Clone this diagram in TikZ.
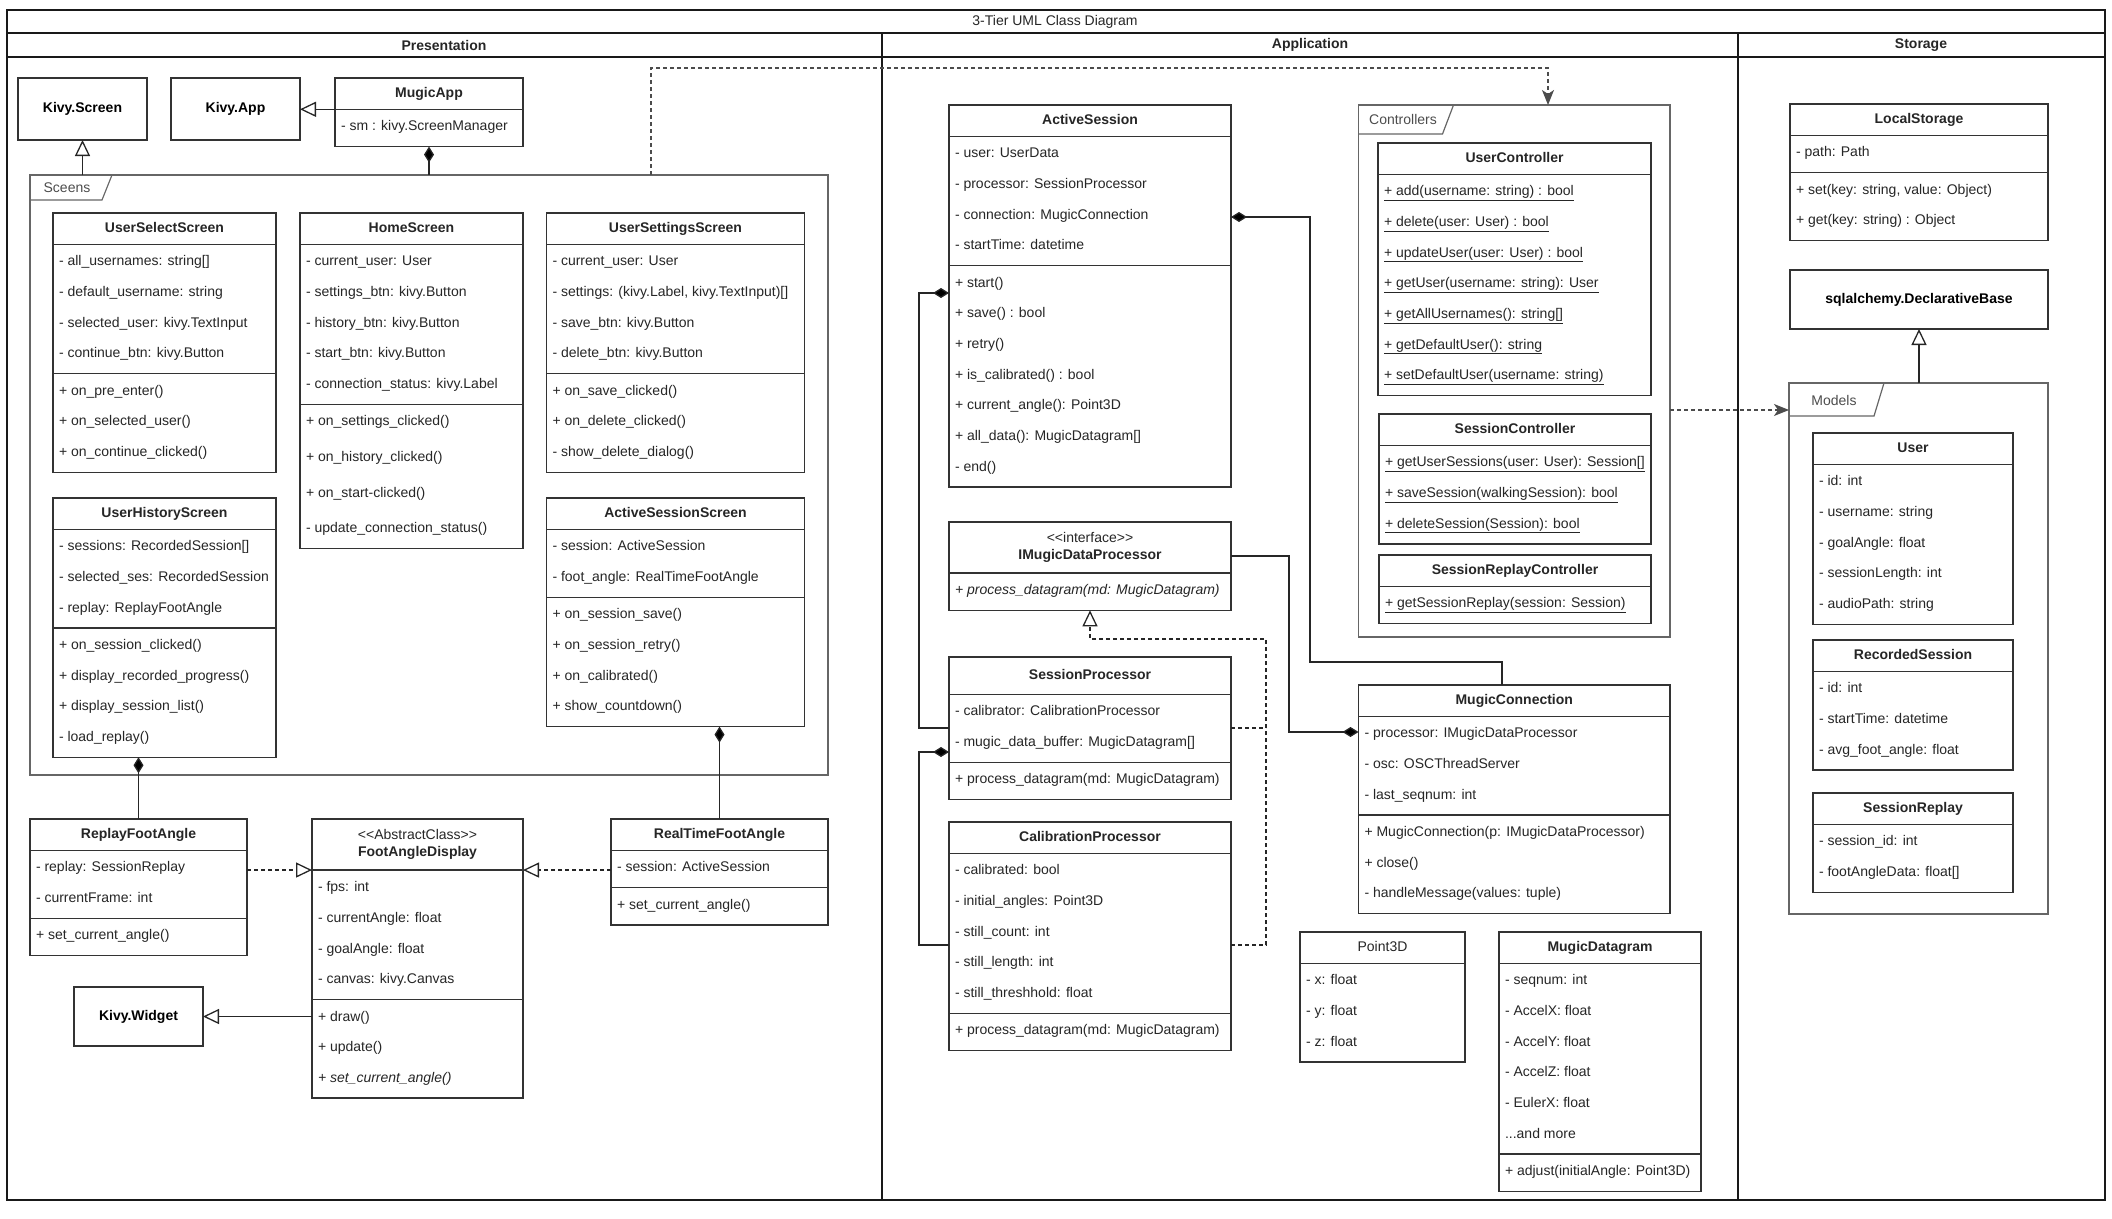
\documentclass[tikz,border=0pt]{standalone}
\usepackage{fontspec}
\newfontfamily\umlfont{Liberation Sans}
\usepackage{tikz}
\usetikzlibrary{arrows.meta}
\usetikzlibrary{shapes.multipart}

\newcommand{\hs}{\rule[-3pt]{0pt}{14pt}}
\newcommand{\rs}{\rule[-7pt]{0pt}{20pt}}
\newcommand{\stereo}[2]{{\renewcommand{\arraystretch}{0.55}\begin{tabular}{@{}c@{}}#1\\\textbf{#2}\end{tabular}}}

\begin{document}
\begin{tikzpicture}[x=1pt, y=-1pt,
  every node/.style={font=\umlfont\fontsize{14}{30.67}\selectfont, text=black!85, outer sep=0pt},
  umlclass/.style={draw=black!80, line width=1.3pt, fill=white, anchor=north west,
    rectangle split, rectangle split parts=#1, rectangle split part align={center,left,left},
    align=left, inner xsep=6pt, inner ysep=8pt},
  umlclass/.default=3,
  plainclass/.style={draw=black!80, line width=1.3pt, fill=white, anchor=north west,
    font=\umlfont\bfseries\fontsize{14}{17}\selectfont, text=black},
  pkg/.style={draw=black!60, line width=1.2pt},
  tablabel/.style={text=black!70},
  lane/.style={font=\umlfont\bfseries\fontsize{14}{17}\selectfont},
  frame/.style={draw=black!90, line width=2.5pt},
  compose/.style={draw=black!85, line width=1.3pt, {Diamond[length=16pt,width=10pt]}-},
  inherit/.style={draw=black!85, line width=1.3pt, -{Triangle[open,length=16pt,width=15pt]}},
  realline/.style={draw=black!85, line width=1.3pt, dash pattern=on 4pt off 3pt},
  realize/.style={realline, -{Triangle[open,length=16pt,width=15pt]}},
  depend/.style={draw=black!70, line width=1.2pt, dash pattern=on 4pt off 3pt, -{Stealth[length=15pt,width=12pt,inset=4pt]}}
]
\useasboundingbox (0,0) rectangle (2112,1218);
%
\draw[frame] (7,10) rectangle (2105,1200);
\draw[frame] (7,33) -- (2105,33);
\draw[frame] (7,57) -- (2105,57);
\draw[frame] (882,33) -- (882,1200);
\draw[frame] (1738,33) -- (1738,1200);
\node (title) at (1055,22) {3-Tier UML Class Diagram};
\node[lane] (lanePres) at (444,45) {Presentation};
\node[lane] (laneApp) at (1310,45) {Application};
\node[lane] (laneStore) at (1921,45) {Storage};
%
% packages
\node[pkg, anchor=north west, minimum width=798pt, minimum height=600pt] (Sceens) at (30,175) {};
\draw[pkg] (Sceens.north west) -- ++(82,0) -- ++(-10,25) -- ++(-72,0);
\node[tablabel] (SceensTab) at (67,188) {Sceens};
\node[pkg, anchor=north west, minimum width=311.5pt, minimum height=532pt] (Controllers) at (1358.5,105) {};
\draw[pkg] (Controllers.north west) -- ++(95,0) -- ++(-11,29) -- ++(-84,0);
\node[tablabel] (ControllersTab) at (1403,119) {Controllers};
\node[pkg, anchor=north west, minimum width=259pt, minimum height=531pt] (Models) at (1789,383) {};
\draw[pkg] (Models.north west) -- ++(95,0) -- ++(-10,33) -- ++(-85,0);
\node[tablabel] (ModelsTab) at (1834,400) {Models};
%
% presentation
\node[plainclass, minimum width=129pt, minimum height=62pt] (KivyScreen) at (18,78) {Kivy.Screen};
\node[plainclass, minimum width=129pt, minimum height=62pt] (KivyApp) at (171,78) {Kivy.App};
\node[umlclass=2, minimum width=188pt] (MugicApp) at (335,78) {\hs\textbf{MugicApp}
  \nodepart{two}\rs - sm : kivy.ScreenManager};
\node[umlclass, minimum width=223pt] (UserSelectScreen) at (53,213) {\hs\textbf{UserSelectScreen}
  \nodepart{two}\rs - all\_usernames: string[]\\\rs - default\_username: string\\\rs - selected\_user: kivy.TextInput\\\rs - continue\_btn: kivy.Button
  \nodepart{three}\rs + on\_pre\_enter()\\\rs + on\_selected\_user()\\\rs + on\_continue\_clicked()};
\node[umlclass, minimum width=223pt] (HomeScreen) at (300,213) {\hs\textbf{HomeScreen}
  \nodepart{two}\rs - current\_user: User\\\rs - settings\_btn: kivy.Button\\\rs - history\_btn: kivy.Button\\\rs - start\_btn: kivy.Button\\\rs - connection\_status: kivy.Label
  \nodepart{three}\rs + on\_settings\_clicked()\\[5pt]\rs + on\_history\_clicked()\\[5pt]\rs + on\_start-clicked()\\[5pt]\rs - update\_connection\_status()};
\node[umlclass, minimum width=258pt] (UserSettingsScreen) at (546.5,213) {\hs\textbf{UserSettingsScreen}
  \nodepart{two}\rs - current\_user: User\\\rs - settings: (kivy.Label, kivy.TextInput)[]\\\rs - save\_btn: kivy.Button\\\rs - delete\_btn: kivy.Button
  \nodepart{three}\rs + on\_save\_clicked()\\\rs + on\_delete\_clicked()\\\rs - show\_delete\_dialog()};
\node[umlclass, minimum width=223pt] (UserHistoryScreen) at (53,498) {\hs\textbf{UserHistoryScreen}
  \nodepart{two}\rs - sessions: RecordedSession[]\\\rs - selected\_ses: RecordedSession\\\rs - replay: ReplayFootAngle
  \nodepart{three}\rs + on\_session\_clicked()\\\rs + display\_recorded\_progress()\\\rs + display\_session\_list()\\\rs - load\_replay()};
\node[umlclass, minimum width=258pt] (ActiveSessionScreen) at (546.5,498) {\hs\textbf{ActiveSessionScreen}
  \nodepart{two}\rs - session: ActiveSession\\\rs - foot\_angle: RealTimeFootAngle
  \nodepart{three}\rs + on\_session\_save()\\\rs + on\_session\_retry()\\\rs + on\_calibrated()\\\rs + show\_countdown()};
\node[umlclass, minimum width=217pt] (ReplayFootAngle) at (30,819) {\hs\textbf{ReplayFootAngle}
  \nodepart{two}\rs - replay: SessionReplay\\\rs - currentFrame: int
  \nodepart{three}\rs + set\_current\_angle()};
\node[umlclass, minimum width=211pt] (FootAngleDisplay) at (312,819) {\stereo{<<AbstractClass>>}{FootAngleDisplay}
  \nodepart{two}\rs - fps: int\\\rs - currentAngle: float\\\rs - goalAngle: float\\\rs - canvas: kivy.Canvas
  \nodepart{three}\rs + draw()\\\rs + update()\\\rs\textit{+ set\_current\_angle()}};
\node[umlclass, minimum width=217pt] (RealTimeFootAngle) at (611,819) {\hs\textbf{RealTimeFootAngle}
  \nodepart{two}\rs - session: ActiveSession
  \nodepart{three}\rs + set\_current\_angle()};
\node[plainclass, minimum width=129pt, minimum height=59pt] (KivyWidget) at (74,987) {Kivy.Widget};
%
% application
\node[umlclass, minimum width=282pt] (ActiveSession) at (949,105) {\hs\textbf{ActiveSession}
  \nodepart{two}\rs - user: UserData\\\rs - processor: SessionProcessor\\\rs - connection: MugicConnection\\\rs - startTime: datetime
  \nodepart{three}\rs + start()\\\rs + save() : bool\\\rs + retry()\\\rs + is\_calibrated() : bool\\\rs + current\_angle(): Point3D\\\rs + all\_data(): MugicDatagram[]\\\rs - end()};
\node[umlclass=2, minimum width=282pt] (IMugicDataProcessor) at (949,522) {\stereo{<<interface>>}{IMugicDataProcessor}
  \nodepart{two}\rs\textit{+ process\_datagram(md: MugicDatagram)}};
\node[umlclass, minimum width=282pt] (SessionProcessor) at (949,657) {\rule[-6pt]{0pt}{20pt}\textbf{SessionProcessor}
  \nodepart{two}\rs - calibrator: CalibrationProcessor\\\rs - mugic\_data\_buffer: MugicDatagram[]
  \nodepart{three}\rs + process\_datagram(md: MugicDatagram)};
\node[umlclass, minimum width=282pt] (CalibrationProcessor) at (949,822) {\hs\textbf{CalibrationProcessor}
  \nodepart{two}\rs - calibrated: bool\\\rs - initial\_angles: Point3D\\\rs - still\_count: int\\\rs - still\_length: int\\\rs - still\_threshhold: float
  \nodepart{three}\rs + process\_datagram(md: MugicDatagram)};
\node[umlclass=2, minimum width=273pt] (UserController) at (1378,143) {\hs\textbf{UserController}
  \nodepart{two}\rs\underline{+ add(username: string) : bool}\\\rs\underline{+ delete(user: User) : bool}\\\rs\underline{+ updateUser(user: User) : bool}\\\rs\underline{+ getUser(username: string): User}\\\rs\underline{+ getAllUsernames(): string[]}\\\rs\underline{+ getDefaultUser(): string}\\\rs\underline{+ setDefaultUser(username: string)}};
\node[umlclass=2, minimum width=272pt] (SessionController) at (1379,414) {\hs\textbf{SessionController}
  \nodepart{two}\rs\underline{+ getUserSessions(user: User): Session[]}\\\rs\underline{+ saveSession(walkingSession): bool}\\\rs\underline{+ deleteSession(Session): bool}};
\node[umlclass=2, minimum width=272pt] (SessionReplayController) at (1379,555) {\hs\textbf{SessionReplayController}
  \nodepart{two}\rs\underline{+ getSessionReplay(session: Session)}};
\node[umlclass, minimum width=311.5pt] (MugicConnection) at (1358.5,685) {\hs\textbf{MugicConnection}
  \nodepart{two}\rs - processor: IMugicDataProcessor\\\rs - osc: OSCThreadServer\\\rs - last\_seqnum: int
  \nodepart{three}\rs + MugicConnection(p: IMugicDataProcessor)\\\rs + close()\\\rs - handleMessage(values: tuple)};
\node[umlclass=2, minimum width=165pt] (Point3D) at (1300,932) {\hs Point3D
  \nodepart{two}\rs - x: float\\\rs - y: float\\\rs - z: float};
\node[umlclass, minimum width=202pt] (MugicDatagram) at (1499,932) {\hs\textbf{MugicDatagram}
  \nodepart{two}\rs - seqnum: int\\\rs - AccelX: float\\\rs - AccelY: float\\\rs - AccelZ: float\\\rs - EulerX: float\\\rs ...and more
  \nodepart{three}\rs + adjust(initialAngle: Point3D)};
%
% storage
\node[umlclass, minimum width=258pt] (LocalStorage) at (1790,104) {\hs\textbf{LocalStorage}
  \nodepart{two}\rs - path: Path
  \nodepart{three}\rs + set(key: string, value: Object)\\\rs + get(key: string) : Object};
\node[plainclass, minimum width=258pt, minimum height=59pt] (DeclBase) at (1790,270) {sqlalchemy.DeclarativeBase};
\node[umlclass=2, minimum width=200pt] (User) at (1813,433) {\hs\textbf{User}
  \nodepart{two}\rs - id: int\\\rs - username: string\\\rs - goalAngle: float\\\rs - sessionLength: int\\\rs - audioPath: string};
\node[umlclass=2, minimum width=200pt] (RecordedSession) at (1813,640) {\hs\textbf{RecordedSession}
  \nodepart{two}\rs - id: int\\\rs - startTime: datetime\\\rs - avg\_foot\_angle: float};
\node[umlclass=2, minimum width=200pt] (SessionReplay) at (1813,793) {\hs\textbf{SessionReplay}
  \nodepart{two}\rs - session\_id: int\\\rs - footAngleData: float[]};
%
% connector bends
\coordinate (depA) at (651,68);
\coordinate (depB) at (1548,68);
\coordinate (conRow) at (1231,217);
\coordinate (conBend) at (1310,662);
\coordinate (conDrop) at (1502,662);
\coordinate (spRow) at (949,293);
\coordinate (spBend) at (919,728);
\coordinate (cpRow) at (949,752);
\coordinate (cpBend) at (919,945);
\coordinate (rzTurn) at (1266,639);
\coordinate (imRow) at (1231,556);
\coordinate (mcBend) at (1289,732);
\coordinate (ctlRow) at (1670,410);
%
\draw[inherit] (MugicApp.text split west) -- (KivyApp.east |- MugicApp.text split west);
\draw[compose] (MugicApp.south) -- (MugicApp.south |- Sceens.north);
\draw[inherit] (KivyScreen.south |- Sceens.north) -- (KivyScreen.south);
\draw[depend] (Sceens.north -| depA) -- (depA) -- (depB) -- (Controllers.north -| depB);
\draw[compose] (ReplayFootAngle.north |- UserHistoryScreen.south) -- (ReplayFootAngle.north);
\draw[compose] (RealTimeFootAngle.north |- ActiveSessionScreen.south) -- (RealTimeFootAngle.north);
\draw[realize] (ReplayFootAngle.east |- FootAngleDisplay.text split) -- (FootAngleDisplay.text split west);
\draw[realize] (RealTimeFootAngle.west |- FootAngleDisplay.text split) -- (FootAngleDisplay.text split east);
\draw[inherit] (FootAngleDisplay.west |- KivyWidget.east) -- (KivyWidget.east);
%
\draw[compose] (ActiveSession.east |- conRow) -| (conBend) -- (conDrop) -- (MugicConnection.north -| conDrop);
\draw[compose] (ActiveSession.west |- spRow) -| (spBend) -- (SessionProcessor.west |- spBend);
\draw[compose] (SessionProcessor.west |- cpRow) -| (cpBend) -- (CalibrationProcessor.west |- cpBend);
\draw[realize] (CalibrationProcessor.east |- cpBend) -| (rzTurn) -| (IMugicDataProcessor.south);
\draw[realline] (SessionProcessor.east |- spBend) -- (rzTurn |- spBend);
\draw[compose] (MugicConnection.west |- mcBend) -- (mcBend) |- (IMugicDataProcessor.east |- imRow);
\draw[depend] (Controllers.east |- ctlRow) -- (Models.west |- ctlRow);
\draw[inherit] (Models.north -| DeclBase.south) -- (DeclBase.south);
\end{tikzpicture}
\end{document}
